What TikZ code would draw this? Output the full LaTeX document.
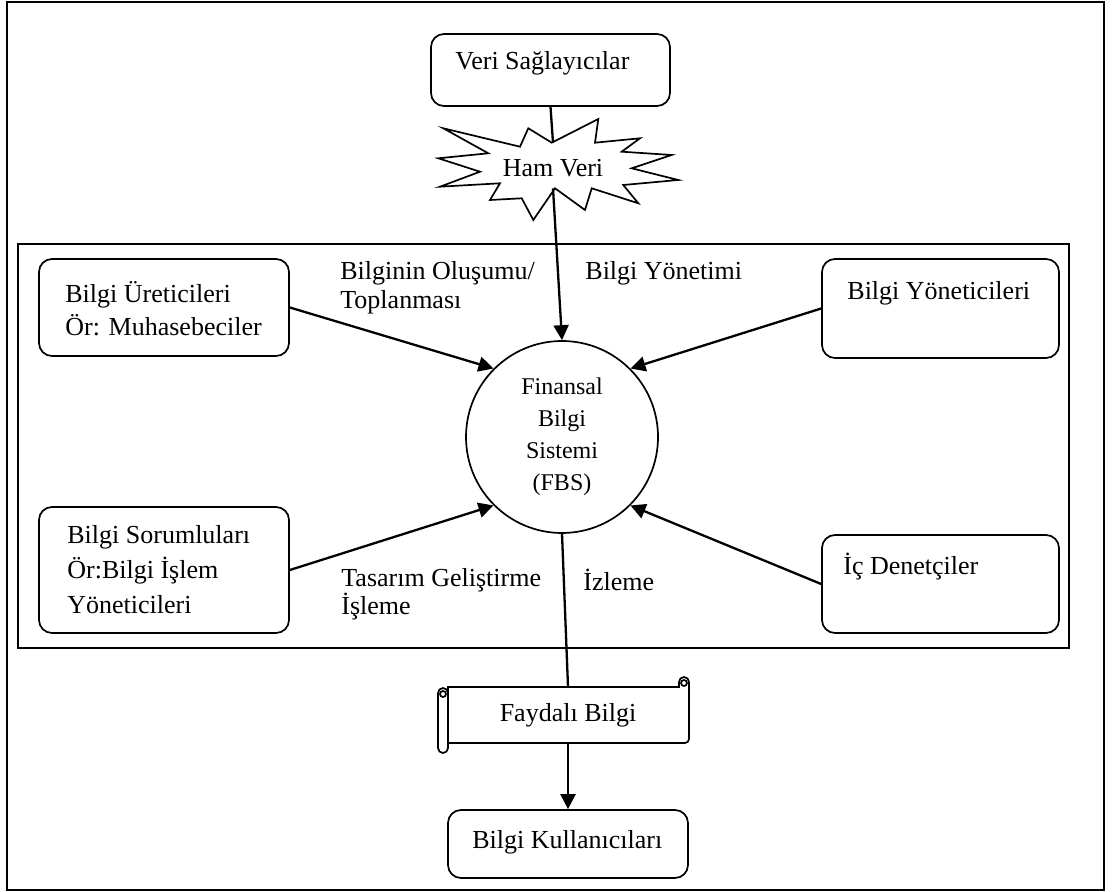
\documentclass[tikz,border=0pt]{standalone}
\usepackage{fontspec}
\setmainfont{Liberation Serif}
\usetikzlibrary{arrows.meta}
\begin{document}
\begin{tikzpicture}[x=0.5pt,y=-0.5pt,
  box/.style={draw, line width=0.85pt, rounded corners=6.5pt, inner sep=0pt},
  txt/.style={font=\fontsize{13pt}{16.5pt}\selectfont, inner sep=0pt, anchor=west, align=left},
  frame/.style={line width=1pt},
  shapeline/.style={line width=0.85pt},
  conn/.style={line width=1.15pt},
  arr/.style={conn, -{Triangle[length=7.5pt,width=7.5pt]}},
]
\useasboundingbox (0,0) rectangle (1113,892);
% frames
\draw[frame] (7,2) rectangle (1104,890);
\draw[frame] (18,244) rectangle (1069,648);

% boxes
\node[box, minimum width=119.5pt, minimum height=36pt] (veri) at (550.5,70) {};
\node[box, minimum width=125pt, minimum height=48.5pt] (uret) at (164,307.5) {};
\node[box, minimum width=118.5pt, minimum height=49.5pt] (yon) at (940.5,308.5) {};
\node[box, minimum width=125pt, minimum height=63pt] (sor) at (164,570) {};
\node[box, minimum width=118.5pt, minimum height=49pt] (ic) at (940.5,584) {};
\node[box, minimum width=120pt, minimum height=34pt] (kul) at (568,844) {};

% box texts
\node[txt] (veri-t) at (455,63) {Veri Sağlayıcılar};
\node[txt] (uret-t) at (65,308.5) {Bilgi Üreticileri\\Ör: Muhasebeciler};
\node[txt] (yon-t) at (847,293) {Bilgi Yöneticileri};
\node[txt, font=\fontsize{13pt}{17.5pt}\selectfont] (sor-t) at (67,570) {Bilgi Sorumluları\\Ör:Bilgi İşlem\\Yöneticileri};
\node[txt] (ic-t) at (843,567) {İç Denetçiler};
\node[txt] (kul-t) at (472,842) {Bilgi Kullanıcıları};

% central circle
\node[circle, draw, line width=0.85pt, minimum size=96pt, inner sep=0pt, align=center,
      font=\fontsize{12pt}{16pt}\selectfont] (fbs) at (562,437) {Finansal\\Bilgi\\Sistemi\\(FBS)};

% starburst (Ham Veri)
\draw[shapeline, fill=white, line join=miter]
  (528.3,128.3) -- (551.7,142.7) -- (598.3,119) -- (595,142.7) -- (640,138.3) --
  (621.7,151.7) -- (671.7,155) -- (631.7,168.3) -- (678.3,180) -- (623.3,185) --
  (638.3,203.3) -- (591.7,188.3) -- (585,210) -- (555,188.3) -- (533.3,220) --
  (521.7,198.3) -- (490,200) -- (500,183.3) -- (440,186.7) -- (480,171.7) --
  (438.3,158.3) -- (488.3,153.3) -- (443.3,128.3) -- (520,146.7) -- cycle;
\node[inner sep=0pt, text height=16.8pt, text depth=5.7pt, font=\fontsize{13pt}{16pt}\selectfont] (ham) at (553,165.5) {Ham Veri};

% scroll (Faydali Bilgi)
\draw[shapeline, fill=white] (448,687) -- (679,687) -- (679,682)
  arc[start angle=180, end angle=0, radius=2.5pt] -- (689,739)
  arc[start angle=0, end angle=-90, radius=2pt] -- (448,743) -- cycle;
\draw[shapeline] (684,683) circle[radius=1.5pt];
\draw[shapeline, fill=white, rounded corners=2.5pt] (438,688) rectangle (448,753);
\draw[shapeline] (443,694) circle[radius=1.5pt];
\node[inner sep=0pt, minimum width=120pt, minimum height=28pt, font=\fontsize{13pt}{16pt}\selectfont] (fay) at (568,715) {Faydalı Bilgi};

% connector labels
\node[txt, font=\fontsize{13pt}{14.5pt}\selectfont] (lab1) at (340,287.5) {Bilginin Oluşumu/\\Toplanması};
\node[txt] (lab2) at (585,273) {Bilgi Yönetimi};
\node[txt, font=\fontsize{13pt}{14pt}\selectfont] (lab3) at (341,594) {Tasarım Geliştirme\\İşleme};
\node[txt] (lab4) at (583,580) {İzleme};

% connectors
\draw[conn] (veri.south) -- (ham.north);
\draw[arr] (ham.south) -- (fbs.north);
\draw[arr] (uret.east) -- (fbs.135);
\draw[arr] (yon.west) -- (fbs.45);
\draw[arr] (sor.east) -- (fbs.225);
\draw[arr] (ic.west) -- (fbs.-45);
\draw[conn] (fbs.south) -- (fay.north);
\draw[arr] (fay.south) -- (kul.north);
\end{tikzpicture}
\end{document}
